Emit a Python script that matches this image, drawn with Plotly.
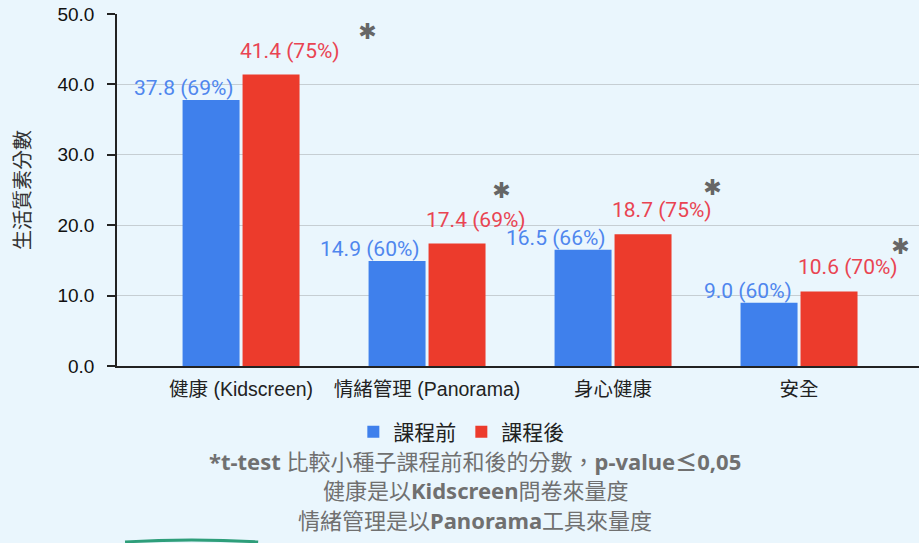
import plotly.graph_objects as go

categories = ["健康 (Kidscreen)", "情緒管理 (Panorama)", "身心健康", "安全"]
before_vals = [37.8, 14.9, 16.5, 9.0]
before_pct = [69, 60, 66, 60]
after_vals = [41.4, 17.4, 18.7, 10.6]
after_pct = [75, 69, 75, 70]
significant = [True, True, True, True]
series_names = ["課程前", "課程後"]
y_title = "生活質素分數"
footnotes = [
    "<b>*t-test</b> 比較小種子課程前和後的分數，<b>p-value≤0,05</b>",
    "健康是以<b>Kidscreen</b>問卷來量度",
    "情緒管理是以<b>Panorama</b>工具來量度",
]

BLUE = "#3F80EC"
RED = "#EC3B2C"
BLUE_TXT = "#4F86EE"
RED_TXT = "#E94452"
BG = "#EAF6FD"
LAT = "Liberation Sans, Arial, Noto Sans CJK TC, sans-serif"

fig = go.Figure()
fig.add_trace(go.Bar(x=categories, y=before_vals, name=series_names[0],
                     marker=dict(color=BLUE, line=dict(width=0))))
fig.add_trace(go.Bar(x=categories, y=after_vals, name=series_names[1],
                     marker=dict(color=RED, line=dict(width=0))))

ann = []
for c, v, p in zip(categories, before_vals, before_pct):
    ann.append(dict(x=c, y=v, xref="x", yref="y", text=f"{v:.1f} ({p}%)",
                    showarrow=False, xanchor="right", yanchor="middle",
                    xshift=-5, yshift=12,
                    font=dict(family="Roboto, sans-serif", size=21, color=BLUE_TXT)))
for c, v, p in zip(categories, after_vals, after_pct):
    ann.append(dict(x=c, y=v, xref="x", yref="y", text=f"{v:.1f} ({p}%)",
                    showarrow=False, xanchor="left", yanchor="middle",
                    xshift=-3, yshift=24,
                    font=dict(family="Roboto, sans-serif", size=21, color=RED_TXT)))
star_dx = [126, 74, 99, 101]
star_dy = [43, 53, 47, 45]
for c, v, s, dx, dy in zip(categories, after_vals, significant, star_dx, star_dy):
    if s:
        ann.append(dict(x=c, y=v, xref="x", yref="y", text="✱",
                        showarrow=False, xanchor="center", yanchor="middle",
                        xshift=dx, yshift=dy, height=17, width=17, valign="middle",
                        font=dict(family="DejaVu Sans, sans-serif", size=22, color="#666666")))
foot_y = [461, 490, 520]
for t, fy in zip(footnotes, foot_y):
    ann.append(dict(x=(475 - 117) / 802, y=(366 - fy) / 352, xref="paper", yref="paper",
                    text=t, showarrow=False, xanchor="center", yanchor="middle",
                    font=dict(family="Noto Sans, Noto Sans CJK TC, sans-serif",
                              size=22, color="#707070")))

fig.update_layout(
    width=919, height=543,
    margin=dict(l=117, r=0, t=14, b=177),
    paper_bgcolor=BG, plot_bgcolor=BG,
    barmode="group", bargap=0.355, bargroupgap=0.05,
    annotations=ann,
    showlegend=True,
    legend=dict(orientation="h", xref="container", yref="container",
                x=0.502, y=1 - 432 / 543, xanchor="center", yanchor="middle",
                font=dict(family="Noto Sans CJK TC, sans-serif", size=21, color="#222"),
                bgcolor="rgba(0,0,0,0)", itemclick=False),
    xaxis=dict(range=[-0.667, 3.645], showline=True, linecolor="#222", linewidth=1.5,
               ticks="", showgrid=False, ticklabelstandoff=5,
               tickfont=dict(family=LAT, size=19.5, color="#222")),
    yaxis=dict(range=[0, 50], dtick=10, tickformat=".1f", showline=True,
               linecolor="#222", linewidth=1.5, ticks="outside", ticklen=8,
               tickcolor="#222", tickwidth=1.5, ticklabelstandoff=9,
               gridcolor="#C6CED3", gridwidth=1, zeroline=False,
               tickfont=dict(family=LAT, size=19, color="#111"),
               title=dict(text=y_title, standoff=21,
                          font=dict(family="Noto Sans CJK TC, sans-serif", size=20, color="#333"))),
    shapes=[dict(type="path", xref="paper", yref="paper",
                 path="M 0.01,-0.5 Q 0.093,-0.488 0.176,-0.5",
                 line=dict(color="#2E9E7A", width=3))],
)

fig.write_html("out.html", config={"displayModeBar": False},
               post_script="document.body.style.margin='0';document.body.style.overflow='hidden';")
